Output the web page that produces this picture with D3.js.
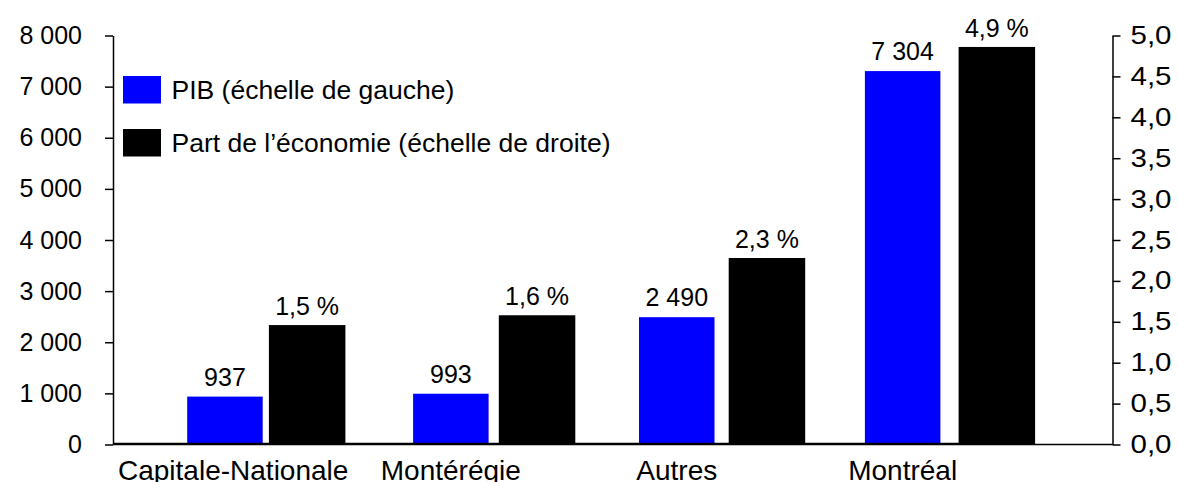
<!DOCTYPE html>
<html>
<head>
<meta charset="utf-8">
<script src="https://cdn.jsdelivr.net/npm/d3@7"></script>
<style>
  body { margin: 0; background: #fff; }
  svg { display: block; font-family: "Liberation Sans", Arial, sans-serif; }
</style>
</head>
<body>
<svg id="chart" width="1178" height="482"></svg>
<script>
// ---- data ----
const categories = ["Capitale-Nationale", "Montérégie", "Autres", "Montréal"];
const pibValues = [937, 993, 2490, 7304];          // left scale
const partValues = [1.46, 1.58, 2.28, 4.86];        // right scale (%)
const leftTicks = [0, 1000, 2000, 3000, 4000, 5000, 6000, 7000, 8000];
const rightTicks = [0, 0.5, 1, 1.5, 2, 2.5, 3, 3.5, 4, 4.5, 5];
const seriesNames = ["PIB (échelle de gauche)", "Part de l’économie (échelle de droite)"];
const seriesColors = ["#0000FF", "#000000"];

// ---- layout ----
const svg = d3.select("#chart");
const xLeft = 113, xRight = 1112.5, yBottom = 444.5, yTop = 35.5;

const fr = d3.formatLocale({decimal: ",", thousands: " ", grouping: [3], currency: ["", ""]});
const fmtInt = fr.format(",d");
const fmt1 = fr.format(".1f");

const xPrimary = d3.scaleBand().domain(categories).range([112, 1015.6]).paddingInner(0).paddingOuter(0);
const xSecondary = d3.scaleBand().domain(categories).range([192.2, 1111.8]).paddingInner(0).paddingOuter(0);
const yL = d3.scaleLinear().domain([0, 8000]).range([yBottom, yTop]);
const yR = d3.scaleLinear().domain([0, 5]).range([yBottom, yTop]);

const blueW = 75.5, blackW = 76.5;

// bars: PIB
svg.append("g").selectAll("rect").data(categories).join("rect")
  .attr("x", (d) => xPrimary(d) + xPrimary.bandwidth() / 2 - blueW / 2)
  .attr("y", (d, i) => yL(pibValues[i]))
  .attr("width", blueW)
  .attr("height", (d, i) => yBottom - yL(pibValues[i]))
  .attr("fill", seriesColors[0]);

// bars: Part
svg.append("g").selectAll("rect").data(categories).join("rect")
  .attr("x", (d) => xSecondary(d) + xSecondary.bandwidth() / 2 - blackW / 2)
  .attr("y", (d, i) => yR(partValues[i]))
  .attr("width", blackW)
  .attr("height", (d, i) => yBottom - yR(partValues[i]))
  .attr("fill", seriesColors[1]);

// value labels
svg.append("g").selectAll("text").data(categories).join("text")
  .attr("x", (d) => xPrimary(d) + xPrimary.bandwidth() / 2)
  .attr("y", (d, i) => yL(pibValues[i]) - 11)
  .attr("text-anchor", "middle")
  .attr("font-size", 25)
  .attr("fill", "#000")
  .text((d, i) => fmtInt(pibValues[i]));

svg.append("g").selectAll("text").data(categories).join("text")
  .attr("x", (d) => xSecondary(d) + xSecondary.bandwidth() / 2)
  .attr("y", (d, i) => yR(partValues[i]) - 10)
  .attr("text-anchor", "middle")
  .attr("font-size", 25)
  .attr("fill", "#000")
  .text((d, i) => fmt1(partValues[i]) + " %");

// left axis
const axL = svg.append("g").attr("transform", `translate(${xLeft},0)`)
  .call(d3.axisLeft(yL).tickValues(leftTicks).tickSize(8).tickPadding(23).tickSizeOuter(0).tickFormat(fmtInt));
axL.selectAll("text").attr("font-size", 25).attr("fill", "#000").attr("font-family", "Liberation Sans, Arial, sans-serif");
axL.selectAll("line").attr("stroke", "#000").attr("stroke-width", 1.5);
axL.select(".domain").attr("stroke", "#000").attr("stroke-width", 1.5);

// right axis
const axR = svg.append("g").attr("transform", `translate(${xRight},0)`)
  .call(d3.axisRight(yR).tickValues(rightTicks).tickSize(8).tickPadding(10).tickSizeOuter(0).tickFormat(fmt1));
axR.selectAll("text").attr("font-size", 25).attr("fill", "#000").attr("font-family", "Liberation Sans, Arial, sans-serif")
  .attr("x", 0)
  .attr("transform", "translate(18,0) scale(1.18,1)");
axR.selectAll("line").attr("stroke", "#000").attr("stroke-width", 1.5);
axR.select(".domain").attr("stroke", "#000").attr("stroke-width", 1.5);

// baseline (category axis)
svg.append("line").attr("x1", xLeft).attr("x2", 1016).attr("y1", 444).attr("y2", 444)
  .attr("stroke", "#000").attr("stroke-width", 2.5);
svg.append("line").attr("x1", 1016).attr("x2", xRight).attr("y1", 444.5).attr("y2", 444.5)
  .attr("stroke", "#000").attr("stroke-width", 1.5);

// category labels
svg.append("g").selectAll("text").data(categories).join("text")
  .attr("y", 480)
  .attr("text-anchor", "middle")
  .attr("font-size", 28)
  .attr("fill", "#000")
  .text((d) => d)
  .each(function (d) {
    const w = this.getComputedTextLength();
    let cx = xPrimary(d) + xPrimary.bandwidth() / 2;
    if (cx - w / 2 < 118) cx = 118 + w / 2;
    d3.select(this).attr("x", cx);
  });

// legend
const legend = svg.append("g");
const legY = [76, 129];
seriesNames.forEach((name, i) => {
  legend.append("rect").attr("x", 123).attr("y", legY[i]).attr("width", 38).attr("height", 27.5)
    .attr("fill", seriesColors[i]);
  legend.append("text").attr("x", 171.5).attr("y", legY[i] + 23)
    .attr("font-size", 26.5).attr("fill", "#000").text(name);
});
</script>
</body>
</html>
